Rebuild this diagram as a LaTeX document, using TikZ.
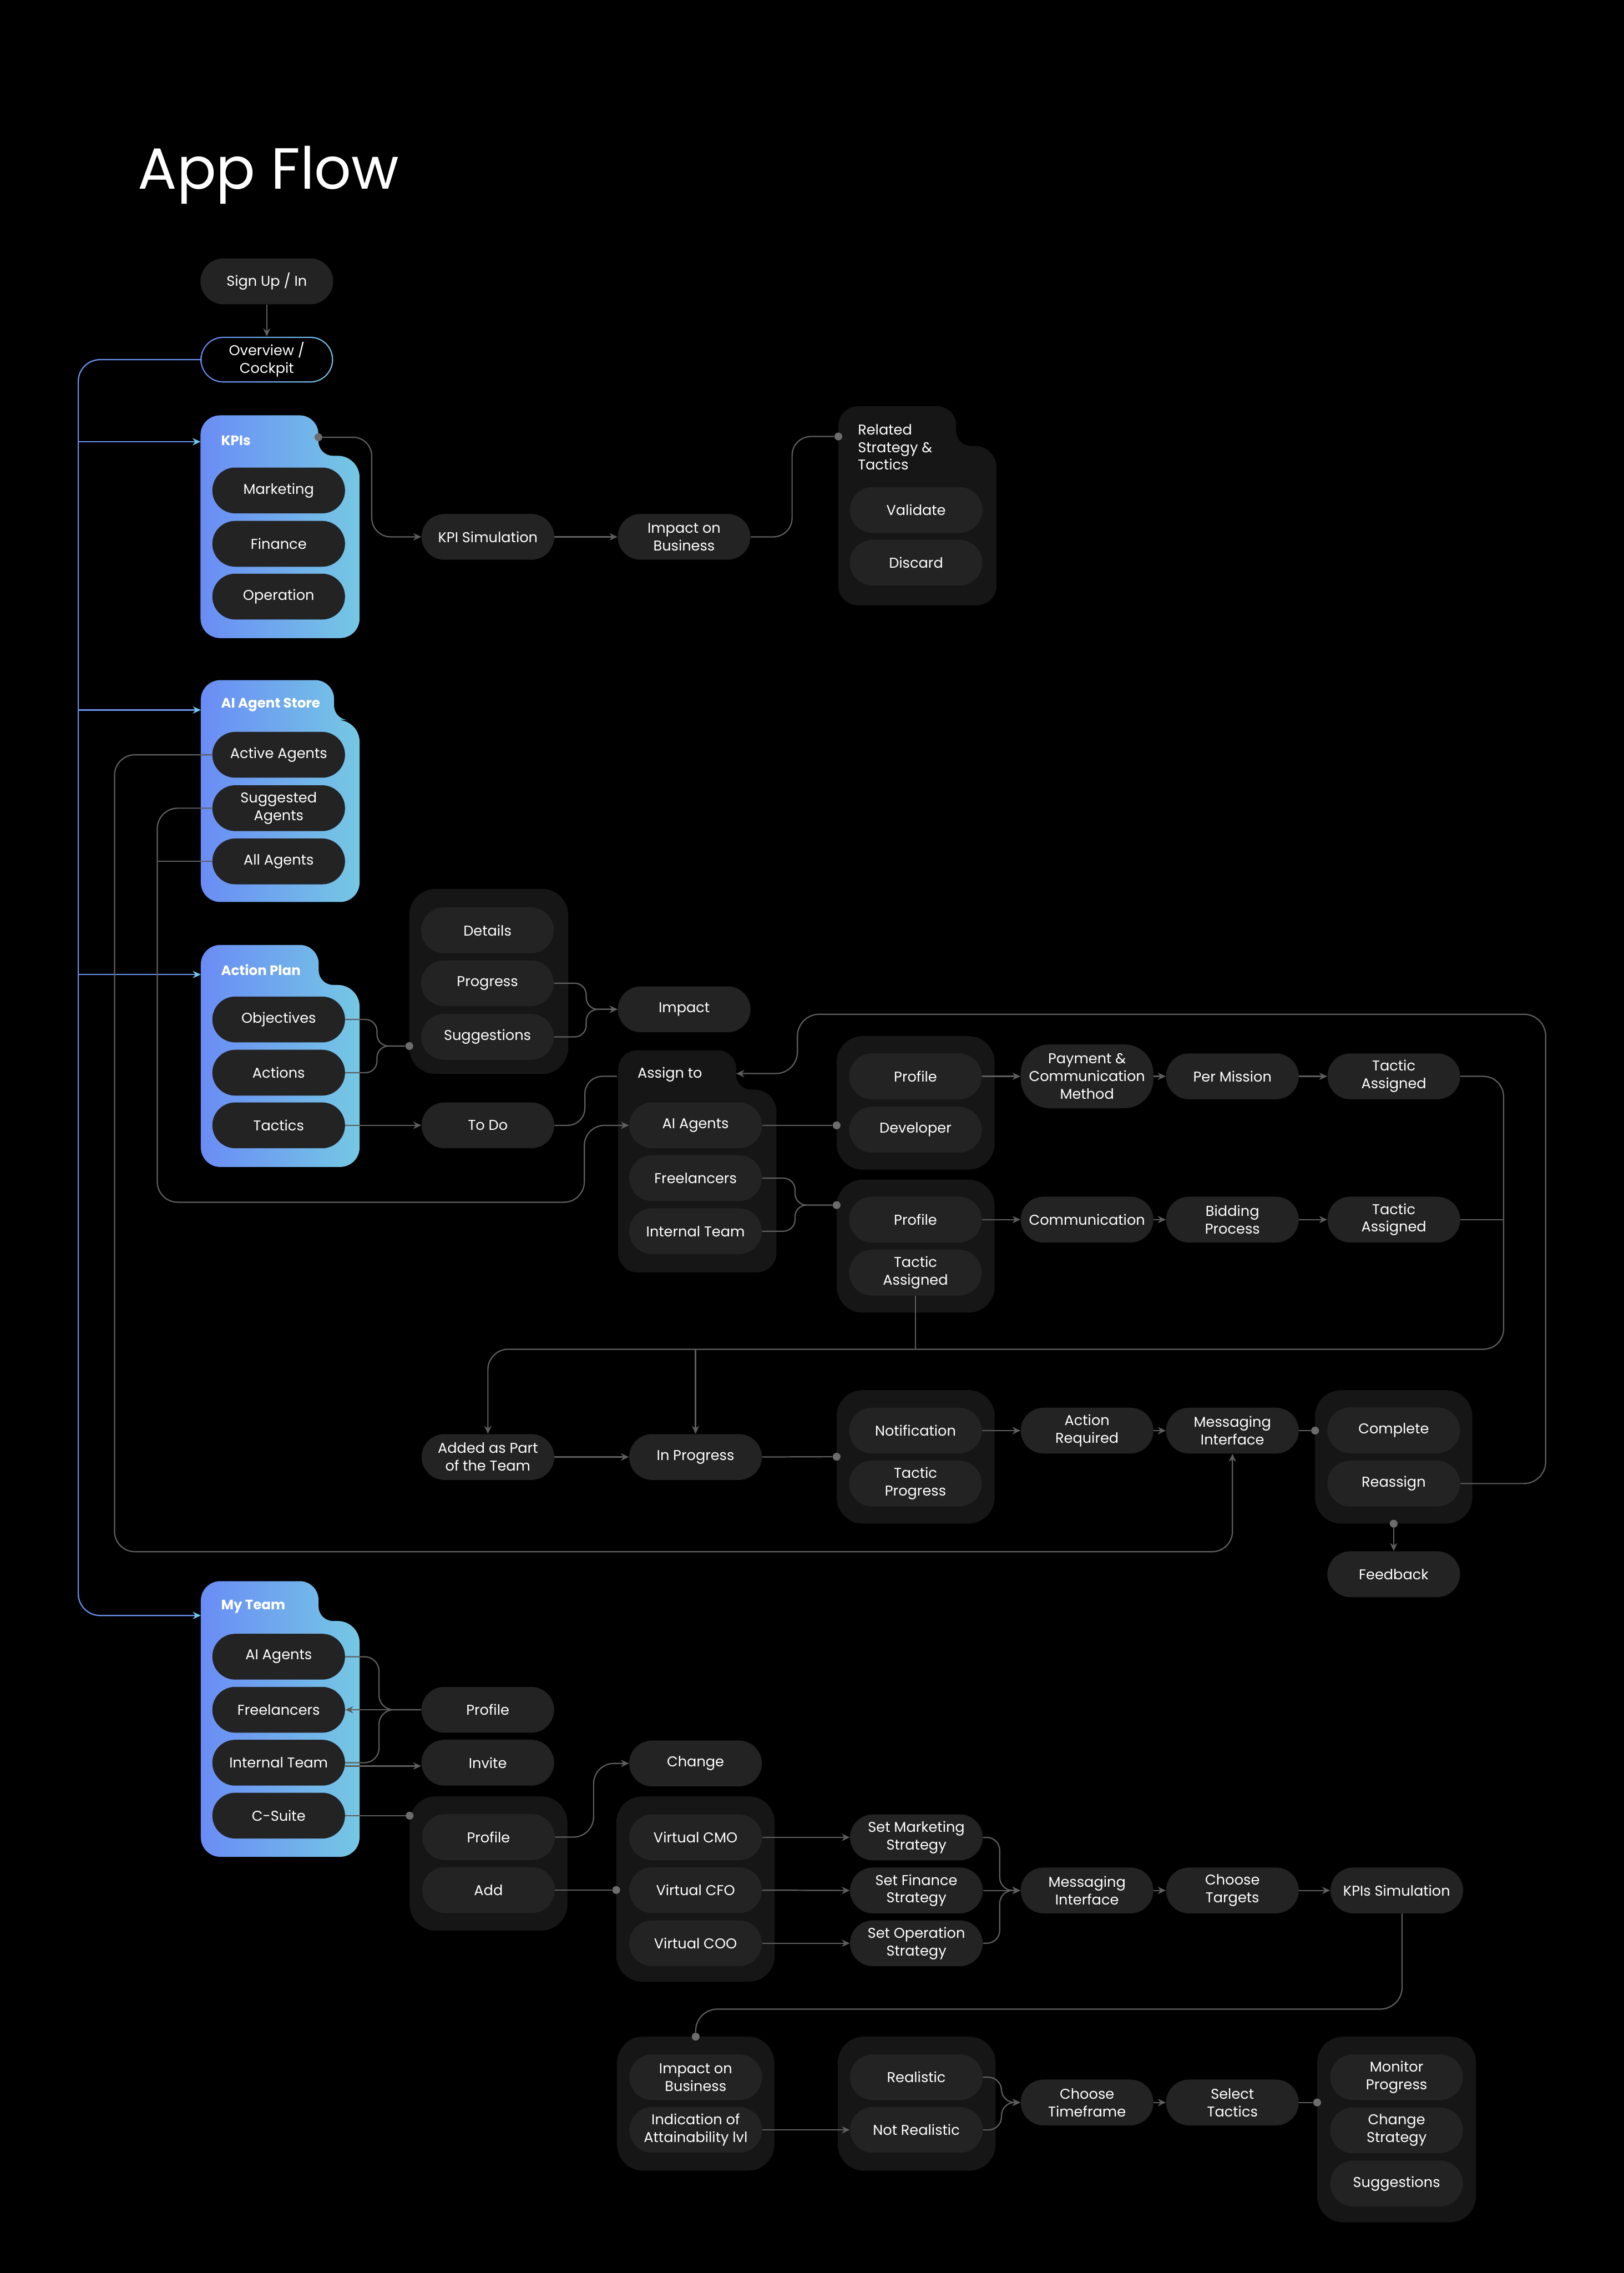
\documentclass[tikz,border=0pt]{standalone}
\usepackage{fontspec}
\setmainfont{Poppins}
\usetikzlibrary{arrows.meta,calc}
\definecolor{pillc}{HTML}{232323}
\definecolor{grpc}{HTML}{161616}
\definecolor{connc}{HTML}{5E5E5E}
\definecolor{dotc}{HTML}{6C6C6C}
\definecolor{gL}{HTML}{6A8CF5}
\definecolor{gR}{HTML}{75C8E4}
\definecolor{blineC}{HTML}{6A93F0}
\definecolor{cyanA}{HTML}{73C8E6}
\definecolor{ovC}{HTML}{6AA4EE}
% #1 options, #2 L, #3 T, #4 R, #5 B, #6 tab right X, #7 notch Y
\newcommand\tabgroup[7]{%
  \path[#1] (#2,{#3+13.5}) .. controls (#2,{#3+6}) and ({#2+6},#3) .. ({#2+13.5},#3)
  -- ({#6-13},#3) .. controls ({#6-5.8},#3) and (#6,{#3+5.8}) .. (#6,{#3+13})
  -- (#6,{#7-10}) .. controls (#6,{#7-4.5}) and ({#6+4.5},#7) .. ({#6+10},#7)
  -- ({#4-15},#7) .. controls ({#4-6.7},#7) and (#4,{#7+6.7}) .. (#4,{#7+15})
  -- (#4,{#5-13.5}) .. controls (#4,{#5-6}) and ({#4-6},#5) .. ({#4-13.5},#5)
  -- ({#2+13.5},#5) .. controls ({#2+6},#5) and (#2,{#5-6}) .. (#2,{#5-13.5})
  -- cycle;}
\tikzset{
 pill/.style={rectangle, rounded corners=15.8pt, fill=pillc, text=white, minimum width=91.5pt, minimum height=31.6pt, inner sep=0pt, align=center, font=\fontsize{9.8}{12.2}\selectfont},
 grp/.style={rectangle, rounded corners=18pt, fill=grpc, inner sep=0pt},
 gtitle/.style={anchor=west, text=white, font=\fontsize{9.4}{12}\selectfont\bfseries, inner sep=0pt},
 conn/.style={draw=connc, line width=0.85pt},
 arr/.style={-{Stealth[length=5.5pt,width=5pt,inset=1.8pt]}},
 bline/.style={draw=blineC, line width=0.85pt},
 barr/.style={-{Stealth[length=5.5pt,width=5pt,inset=1.8pt,color=cyanA]}},
 dotn/.style={circle, fill=dotc, minimum size=5.4pt, inner sep=0pt},
}
\begin{document}
\begin{tikzpicture}[x=1pt,y=-1pt]
\fill[black] (0,0) rectangle (1120,1567.4);
\useasboundingbox (0,0) rectangle (1120,1567.4);

% title
\node[anchor=base west, text=white, inner sep=0pt, font=\fontsize{40}{48}\selectfont] (title) at (95,130.3) {App Flow};

% ---------- groups ----------
\tabgroup{left color=gL,right color=gR}{138.3}{286.4}{248}{440}{219.6}{314.3}
\tabgroup{left color=gL,right color=gR}{138.5}{469}{248}{622}{230.4}{496.5}
\tabgroup{left color=gL,right color=gR}{138.5}{651.6}{248}{804.7}{219.8}{679.2}
\tabgroup{left color=gL,right color=gR}{138.5}{1090.3}{248}{1280.4}{219.7}{1117.8}
\tabgroup{fill=grpc}{578.2}{280.2}{687.3}{417.4}{659.5}{307.5}
\tabgroup{fill=grpc}{426.3}{724.2}{535.5}{877.4}{507.8}{751.4}

\node[grp, minimum width=109.6pt, minimum height=127.6pt] (gdet) at (337.1,676.8) {};
\node[grp, minimum width=109pt, minimum height=92pt] (gdev) at (631.5,760.5) {};
\node[grp, minimum width=109pt, minimum height=91.7pt] (gprof) at (631.5,859.3) {};
\node[grp, minimum width=109pt, minimum height=92pt] (gnotif) at (631.5,1004.6) {};
\node[grp, minimum width=108.5pt, minimum height=92pt] (gcomp) at (961.2,1004.6) {};
\node[grp, minimum width=108.8pt, minimum height=92.5pt] (gcprof) at (336.9,1285) {};
\node[grp, minimum width=109.3pt, minimum height=127.8pt] (gvirt) at (479.7,1302.6) {};
\node[grp, minimum width=108.5pt, minimum height=92.4pt] (gimp) at (479.8,1450.6) {};
\node[grp, minimum width=108.8pt, minimum height=92.4pt] (greal) at (632.2,1450.6) {};
\node[grp, minimum width=109.6pt, minimum height=128pt] (gmon) at (963.2,1468.4) {};

% group titles
\node[gtitle] (tkpi) at (152.3,303.8) {KPIs};
\node[gtitle] (tai) at (152.3,486) {AI Agent Store};
\node[gtitle] (tap) at (152.3,668.8) {Action Plan};
\node[gtitle] (tmt) at (152.3,1108) {My Team};
\node[anchor=west, align=left, text=white, inner sep=0pt, font=\fontsize{9.8}{12.2}\selectfont] (trel) at (591.5,308.3) {Related\\Strategy \&\\Tactics};
\node[anchor=west, text=white, inner sep=0pt, font=\fontsize{9.8}{12.2}\selectfont] (tassign) at (439.5,741) {Assign to};

% ---------- pills ----------
\node[pill] (signup) at (184,194) {Sign Up / In};
\node[pill, fill=none, left color=gL, right color=gR] (overviewrim) at (184,248) {};
\node[pill, fill=black, minimum width=89.8pt, minimum height=29.9pt, rounded corners=14.95pt] (overview) at (184,248) {Overview /\\Cockpit};

\node[pill] (marketing) at (192.2,338.2) {Marketing};
\node[pill] (finance) at (192.2,375) {Finance};
\node[pill] (operation) at (192.2,411.4) {Operation};
\node[pill] (kpisim) at (336.5,370.2) {KPI Simulation};
\node[pill] (impact1) at (471.8,370.2) {Impact on\\Business};
\node[pill] (validate) at (631.8,351.7) {Validate};
\node[pill] (discard) at (631.8,388) {Discard};

\node[pill] (active) at (192.2,520.5) {Active Agents};
\node[pill] (suggested) at (192.2,557.3) {Suggested\\Agents};
\node[pill] (allag) at (192.2,594) {All Agents};

\node[pill] (objectives) at (192.2,703) {Objectives};
\node[pill] (actions) at (192.2,739.7) {Actions};
\node[pill] (tactics) at (192.2,776) {Tactics};
\node[pill] (details) at (336.2,641.5) {Details};
\node[pill] (progress) at (336.2,678) {Progress};
\node[pill] (suggestions) at (336.2,715) {Suggestions};
\node[pill] (impact2) at (471.9,696) {Impact};
\node[pill] (todo) at (336.5,776) {To Do};

\node[pill] (aiag) at (479.7,776) {AI Agents};
\node[pill] (freel) at (479.7,812.4) {Freelancers};
\node[pill] (intteam) at (479.7,849) {Internal Team};

\node[pill] (profile1) at (631.4,742.2) {Profile};
\node[pill] (developer) at (631.4,779) {Developer};
\node[pill, minimum height=44pt, rounded corners=20pt] (payment) at (749.7,742.2) {Payment \&\\Communication\\Method};
\node[pill] (permission) at (850,742.2) {Per Mission};
\node[pill] (tactic1) at (961.3,742.2) {Tactic\\Assigned};

\node[pill] (profile2) at (631.4,841) {Profile};
\node[pill] (tacticas2) at (631.4,877.6) {Tactic\\Assigned};
\node[pill] (communication) at (749.7,841) {Communication};
\node[pill] (bidding) at (850,841) {Bidding\\Process};
\node[pill] (tactic3) at (961.3,841) {Tactic\\Assigned};

\node[pill] (added) at (336.5,1004.7) {Added as Part\\of the Team};
\node[pill] (inprog) at (479.7,1004.7) {In Progress};
\node[pill] (notification) at (631.4,986.5) {Notification};
\node[pill] (tprogress) at (631.4,1023) {Tactic\\Progress};
\node[pill] (actreq) at (749.7,986.5) {Action\\Required};
\node[pill] (msg1) at (850,986.5) {Messaging\\Interface};
\node[pill] (complete) at (961.2,986.3) {Complete};
\node[pill] (reassign) at (961.2,1023) {Reassign};
\node[pill] (feedback) at (961.2,1085.5) {Feedback};

\node[pill] (myai) at (192.2,1142.4) {AI Agents};
\node[pill] (myfree) at (192.2,1179) {Freelancers};
\node[pill] (myint) at (192.2,1215.5) {Internal Team};
\node[pill] (csuite) at (192.2,1252) {C-Suite};
\node[pill] (profile3) at (336.4,1179) {Profile};
\node[pill] (invite) at (336.4,1215.5) {Invite};
\node[pill] (change) at (479.7,1216) {Change};
\node[pill] (cprofile) at (336.9,1266.8) {Profile};
\node[pill] (add) at (336.9,1303.3) {Add};
\node[pill] (vcmo) at (479.7,1267) {Virtual CMO};
\node[pill] (vcfo) at (479.7,1303.4) {Virtual CFO};
\node[pill] (vcoo) at (479.7,1340) {Virtual COO};
\node[pill] (setm) at (632,1267) {Set Marketing\\Strategy};
\node[pill] (setf) at (632,1303.6) {Set Finance\\Strategy};
\node[pill] (seto) at (632,1340) {Set Operation\\Strategy};
\node[pill] (msg2) at (749.7,1303.6) {Messaging\\Interface};
\node[pill] (targets) at (850,1303.6) {Choose\\Targets};
\node[pill] (kpisim2) at (963.3,1303.6) {KPIs Simulation};

\node[pill] (impact3) at (479.8,1432.4) {Impact on\\Business};
\node[pill] (indication) at (479.8,1468.7) {Indication of\\Attainability lvl};
\node[pill] (realistic) at (632,1432.4) {Realistic};
\node[pill] (notreal) at (632,1468.7) {Not Realistic};
\node[pill] (timeframe) at (749.7,1449.8) {Choose\\Timeframe};
\node[pill] (seltactics) at (850,1449.8) {Select\\Tactics};
\node[pill] (monitor) at (963.2,1432.4) {Monitor\\Progress};
\node[pill] (changestr) at (963.2,1469) {Change\\Strategy};
\node[pill] (sugg2) at (963.2,1505.7) {Suggestions};

% ---------- dots ----------
\node[dotn] (kpidot) at (219.6,301.5) {};
\node[dotn] (reldot) at (578.2,301) {};
\node[dotn] (detdot) at (282.3,721.3) {};
\node[dotn] (devdot) at (577,776) {};
\node[dotn] (p2dot) at (577,831) {};
\node[dotn] (notifdot) at (577,1004.5) {};
\node[dotn] (compdot) at (907,986.5) {};
\node[dotn] (compbot) at (961.2,1050.7) {};
\node[dotn] (cprofdot) at (282.5,1252) {};
\node[dotn] (virtdot) at (425,1303.3) {};
\node[dotn] (impdot) at (479.8,1404.4) {};
\node[dotn] (mondot) at (908.4,1449.8) {};

% ---------- coordinates ----------
\coordinate (kpiin) at (138.3,304.6);
\coordinate (aiin) at (138.5,489.6);
\coordinate (apin) at (138.5,672);
\coordinate (mtin) at (138.5,1114);
\coordinate (tr1) at (54,304.6);
\coordinate (tr2) at (54,489.6);
\coordinate (tr3) at (54,672);
\coordinate (assignL) at (425.5,742.2);
\coordinate (assignIn) at (507.8,740.3);
\coordinate (jall) at (108.5,594);
\coordinate (jt3) at (1037,841);
\coordinate (jta) at (631.4,930.4);
\coordinate (jip) at (479.7,930.4);

% ---------- blue connectors ----------
\draw[bline, barr, rounded corners=15pt] (overviewrim.west) -- (54,248) -- (54,1114) -- (mtin);
\draw[bline, barr] (tr1) -- (kpiin);
\draw[bline, barr] (tr2) -- (aiin);
\draw[bline, barr] (tr3) -- (apin);

% ---------- gray connectors ----------
\draw[conn, arr] (signup.south) -- (overviewrim.north);
\draw[conn, arr, rounded corners=13pt] (kpidot) -- (256.4,301.5) |- (kpisim.west);
\draw[conn, arr] (kpisim.east) -- (impact1.west);
\draw[conn, rounded corners=13pt] (impact1.east) -- (546.3,370.2) |- (reldot);

\draw[conn, arr, rounded corners=14pt] (active.west) -- (79,520.5) -- (79,1070) -| (msg1.south);
\draw[conn, arr, rounded corners=14pt] (suggested.west) -- (108.5,557.3) -- (108.5,829) -- (403,829) -- (403,776) -- (aiag.west);
\draw[conn] (allag.west) -- (jall);

\draw[conn, rounded corners=8pt] (objectives.east) -- (260,703) |- (detdot);
\draw[conn, rounded corners=8pt] (actions.east) -- (260,739.7) |- (detdot);
\draw[conn, arr, rounded corners=8pt] (progress.east) -- (404.3,678) |- (impact2.west);
\draw[conn, arr, rounded corners=8pt] (suggestions.east) -- (404.3,715) |- (impact2.west);
\draw[conn, arr] (tactics.east) -- (todo.west);
\draw[conn, rounded corners=12pt] (todo.east) -- (403.4,776) |- (assignL);

\draw[conn] (aiag.east) -- (devdot);
\draw[conn, rounded corners=8pt] (freel.east) -- (548.3,812.4) |- (p2dot);
\draw[conn, rounded corners=8pt] (intteam.east) -- (548.3,849) |- (p2dot);

\draw[conn, arr] (profile1.east) -- (payment.west);
\draw[conn, arr] (payment.east) -- (permission.west);
\draw[conn, arr] (permission.east) -- (tactic1.west);
\draw[conn, arr] (profile2.east) -- (communication.west);
\draw[conn, arr] (communication.east) -- (bidding.west);
\draw[conn, arr] (bidding.east) -- (tactic3.west);

\draw[conn, arr, rounded corners=14pt] (tactic1.east) -- (1037,742.2) -- (1037,930.4) -| (added.north);
\draw[conn] (tactic3.east) -- (jt3);
\draw[conn] (tacticas2.south) -- (jta);
\draw[conn, arr] (jip) -- (inprog.north);
\draw[conn, arr] (added.east) -- (inprog.west);
\draw[conn] (inprog.east) -- (notifdot);

\draw[conn, arr] (notification.east) -- (actreq.west);
\draw[conn, arr] (actreq.east) -- (msg1.west);
\draw[conn] (msg1.east) -- (compdot);
\draw[conn, arr, rounded corners=15pt] (reassign.east) -- (1066,1023) -- (1066,699.4) -- (550,699.4) -- (550,740.3) -- (assignIn);
\draw[conn, arr] (compbot) -- (feedback.north);

\draw[conn, rounded corners=10pt] (myai.east) -- (261.4,1142.4) |- (profile3.west);
\draw[conn, rounded corners=10pt] (myint.east) -- (261.4,1215.5) |- (profile3.west);
\draw[conn, arr] (profile3.west) -- (myfree.east);
\draw[conn, arr] ([yshift=-2.3pt]myint.east) -- ([yshift=-2.3pt]invite.west);
\draw[conn] (csuite.east) -- (cprofdot);
\draw[conn, arr, rounded corners=14pt] (cprofile.east) -- (409.4,1266.8) |- (change.west);
\draw[conn] (add.east) -- (virtdot);

\draw[conn, arr] (vcmo.east) -- (setm.west);
\draw[conn, arr] (vcfo.east) -- (setf.west);
\draw[conn, arr] (vcoo.east) -- (seto.west);
\draw[conn, arr, rounded corners=9pt] (setm.east) -- (689.5,1267) |- (msg2.west);
\draw[conn, arr, rounded corners=9pt] (seto.east) -- (689.5,1340) |- (msg2.west);
\draw[conn, arr] (setf.east) -- (msg2.west);
\draw[conn, arr] (msg2.east) -- (targets.west);
\draw[conn, arr] (targets.east) -- (kpisim2.west);
\draw[conn, rounded corners=15pt] ([xshift=3.7pt]kpisim2.south) -- (967,1385.4) -| (impdot);

\draw[conn, arr] (indication.east) -- (notreal.west);
\draw[conn, arr, rounded corners=9pt] (realistic.east) -- (690.7,1432.4) |- (timeframe.west);
\draw[conn, arr, rounded corners=9pt] (notreal.east) -- (690.7,1468.7) |- (timeframe.west);
\draw[conn, arr] (timeframe.east) -- (seltactics.west);
\draw[conn] (seltactics.east) -- (mondot);
\end{tikzpicture}
\end{document}
